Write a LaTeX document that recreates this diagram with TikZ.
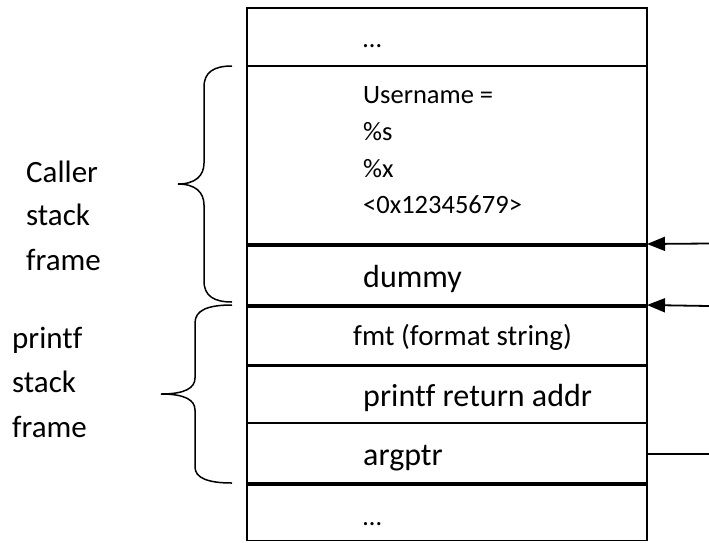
\documentclass[tikz,border=0pt]{standalone}
\usepackage{fontspec}
\setmainfont{Carlito}[Ligatures=NoCommon]
\usetikzlibrary{arrows.meta}
\begin{document}
\begin{tikzpicture}[x=1pt,y=-1pt,
  cell/.style={draw,line width=1.5pt,minimum width=400pt,inner sep=0pt,outer sep=0pt},
  txtA/.style={anchor=base west,inner sep=0pt,font=\fontsize{26.5}{30}\selectfont},
  txtB/.style={anchor=base west,inner sep=0pt,font=\fontsize{29}{33}\selectfont},
  txtC/.style={anchor=base west,inner sep=0pt,font=\fontsize{32}{36}\selectfont},
  lbl/.style={anchor=base west,inner sep=0pt,font=\fontsize{31}{36}\selectfont},
  brace/.style={line width=1.5pt},
  ptr/.style={line width=1.8pt,-{Triangle[length=18pt,width=14pt]}},
  plain/.style={line width=1.2pt}]
\useasboundingbox (0,0) rectangle (709,542);
% stack cells
\node[cell,minimum height=58pt] (c1) at (447,37) {};
\node[cell,minimum height=178pt] (c2) at (447,155) {};
\node[cell,minimum height=59pt] (c3) at (447,275.5) {};
\node[cell,minimum height=58pt] (c4) at (447,336) {};
\node[cell,minimum height=57pt] (c5) at (447,394.5) {};
\node[cell,minimum height=60pt] (c6) at (447,453) {};
\node[cell,minimum height=55.5pt] (c7) at (447,512.75) {};
% texts
\node[txtA] (t1) at (363,47) {…};
\node[txtA] (t2a) at (363,103) {Username =};
\node[txtA] (t2b) at (363,140) {\%s};
\node[txtA] (t2c) at (363,177) {\%x};
\node[txtA] (t2d) at (363,213) {<0x12345679>};
\node[txtC] (t3) at (363,287) {dummy};
\node[txtB] (t4) at (353,345) {fmt (format string)};
\node[txtC] (t5) at (363,406) {printf return addr};
\node[txtC] (t6) at (363,465) {argptr};
\node[txtA] (t7) at (363,525) {…};
% left labels
\node[lbl] (l1) at (26,182) {Caller};
\node[lbl] (l2) at (26,225) {stack};
\node[lbl] (l3) at (26,270) {frame};
\node[lbl] (l4) at (12,348) {printf};
\node[lbl] (l5) at (12,392) {stack};
\node[lbl] (l6) at (12,437) {frame};
% braces
\draw[brace] (232,66) .. controls (214,66) and (204,72) .. (204,87) -- (204,163)
  .. controls (204,176) and (195,184) .. (178,184)
  .. controls (195,184) and (204,192) .. (204,205) -- (204,281)
  .. controls (204,296) and (214,302) .. (232,302);
\draw[brace] (232,305) .. controls (208,305) and (195,310) .. (195,323) -- (195,378)
  .. controls (195,388) and (185,394) .. (161,394)
  .. controls (185,394) and (195,400) .. (195,410) -- (195,467)
  .. controls (195,478) and (208,483) .. (232,483);
% pointers
\coordinate (e1) at (709,243.5);
\coordinate (e2) at (709,306);
\coordinate (e3) at (709,454);
\draw[ptr] (e1) -- (c2.south east);
\draw[ptr] (e2) -- (c3.south east);
\draw[plain] (c6.east |- e3) -- (e3);
\end{tikzpicture}
\end{document}
